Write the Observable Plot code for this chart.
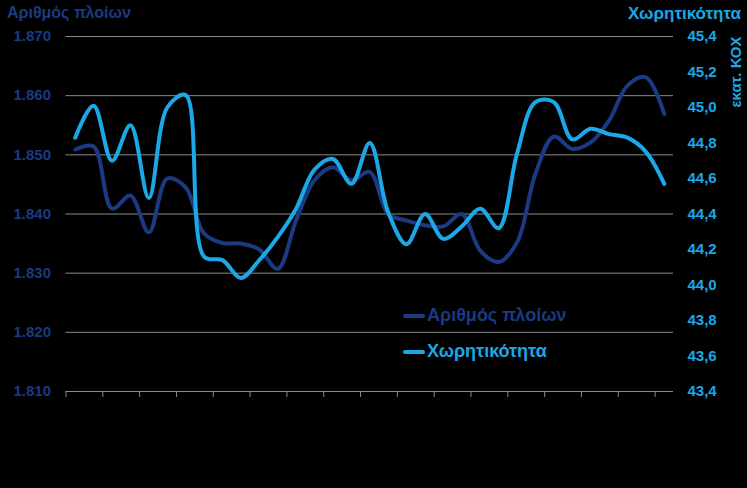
<!DOCTYPE html>
<html><head><meta charset="utf-8">
<script src="https://cdn.jsdelivr.net/npm/d3@7"></script>
<script src="https://cdn.jsdelivr.net/npm/@observablehq/plot@0.6"></script>
<style>
html,body{margin:0;padding:0;background:#000;}
#wrap{position:relative;width:747px;height:488px;background:#000;overflow:hidden;}
.t{position:absolute;font-family:"Liberation Sans",Arial,sans-serif;font-weight:bold;white-space:nowrap;line-height:1;}
.dash{display:inline-block;width:22px;height:4px;vertical-align:middle;margin-right:2px;border-radius:2px;}
</style></head><body><div id="wrap"></div>
<script>
const periods = [0,1,2,3,4,5,6,7,8,9,10,11,12,13,14,15,16,17,18,19,20,21,22,23,24,25,26,27,28,29,30,31,32];
const ships = [1850.9,1851.4,1840.9,1843.1,1836.9,1846.0,1844.5,1836.7,1835.1,1835.0,1834.0,1830.7,1838.9,1845.7,1847.9,1845.7,1847.1,1840.0,1838.9,1838.1,1837.9,1840.0,1833.8,1831.9,1835.2,1846.8,1853.1,1851.0,1852.1,1855.8,1861.7,1863.1,1856.9];
const capacity = [44.83,45.01,44.70,44.90,44.49,45.00,45.07,44.16,44.14,44.04,44.14,44.27,44.43,44.65,44.71,44.57,44.80,44.41,44.23,44.40,44.26,44.33,44.43,44.32,44.74,45.03,45.03,44.82,44.88,44.85,44.83,44.75,44.57];
const leftTicks = [1810,1820,1830,1840,1850,1860,1870];
const rightTicks = [43.4,43.6,43.8,44.0,44.2,44.4,44.6,44.8,45.0,45.2,45.4];
const xTicks = [-0.5,1.5,3.5,5.5,7.5,9.5,11.5,13.5,15.5,17.5,19.5,21.5,23.5,25.5,27.5,29.5,31.5];
const labels = {left:"Αριθμός πλοίων", right:"Χωρητικότητα", unit:"εκατ. ΚΟΧ", s1:"Αριθμός πλοίων", s2:"Χωρητικότητα"};

const darkBlue = "#1b3a82";
const lightBlue = "#1ca8e6";
const toLeft = v => 1810 + (v - 43.4) * 30;
const fromLeft = v => 43.4 + (v - 1810) / 30;

const shipData = periods.map((p,i)=>({p, v: ships[i]}));
const capData = periods.map((p,i)=>({p, v: toLeft(capacity[i])}));

const chart = Plot.plot({
  width: 747, height: 488,
  marginLeft: 65.5, marginRight: 74, marginTop: 36, marginBottom: 97,
  style: {background: "#000", fontFamily: "Liberation Sans, Arial, sans-serif"},
  x: {domain: [-0.5, 32.5], axis: null},
  y: {domain: [1810, 1870], axis: null},
  marks: [
    Plot.ruleY(leftTicks, {stroke: "#8a8a8a", strokeWidth: 1}),
    Plot.axisX({ticks: xTicks, tickSize: 6, tickFormat: () => "", stroke: "#8a8a8a", strokeWidth: 1, strokeOpacity: 1}),
    Plot.axisY({anchor: "left", ticks: leftTicks, tickSize: 0, tickPadding: 15, label: null,
      tickFormat: d => d3.format(",")(d).replace(",", "."), fill: darkBlue, fontSize: 15, fontWeight: "bold"}),
    Plot.axisY({anchor: "right", ticks: rightTicks.map(toLeft), tickSize: 0, tickPadding: 14, label: null,
      tickFormat: d => fromLeft(d).toFixed(1).replace(".", ","), fill: lightBlue, fontSize: 15, fontWeight: "bold"}),
    Plot.line(shipData, {x: "p", y: "v", curve: "catmull-rom", stroke: darkBlue, strokeWidth: 4}),
    Plot.line(capData, {x: "p", y: "v", curve: "catmull-rom", stroke: lightBlue, strokeWidth: 4})
  ]
});
const wrap = document.getElementById("wrap");
wrap.appendChild(chart);

function addText(html, css) {
  const d = document.createElement("div");
  d.className = "t";
  d.innerHTML = html;
  Object.assign(d.style, css);
  wrap.appendChild(d);
  return d;
}
addText(labels.left, {left: "7px", top: "5px", fontSize: "16px", color: darkBlue});
addText(labels.right, {left: "628px", top: "5px", fontSize: "17px", color: lightBlue});
addText(labels.unit, {left: "735px", top: "72px", fontSize: "15px", color: lightBlue,
  transform: "translate(-50%,-50%) rotate(-90deg)"});
addText(`<span class="dash" style="background:${darkBlue}"></span>${labels.s1}`,
  {left: "403px", top: "306px", fontSize: "18px", color: darkBlue});
addText(`<span class="dash" style="background:${lightBlue}"></span>${labels.s2}`,
  {left: "403px", top: "342px", fontSize: "18px", color: lightBlue});
</script>
</body></html>
